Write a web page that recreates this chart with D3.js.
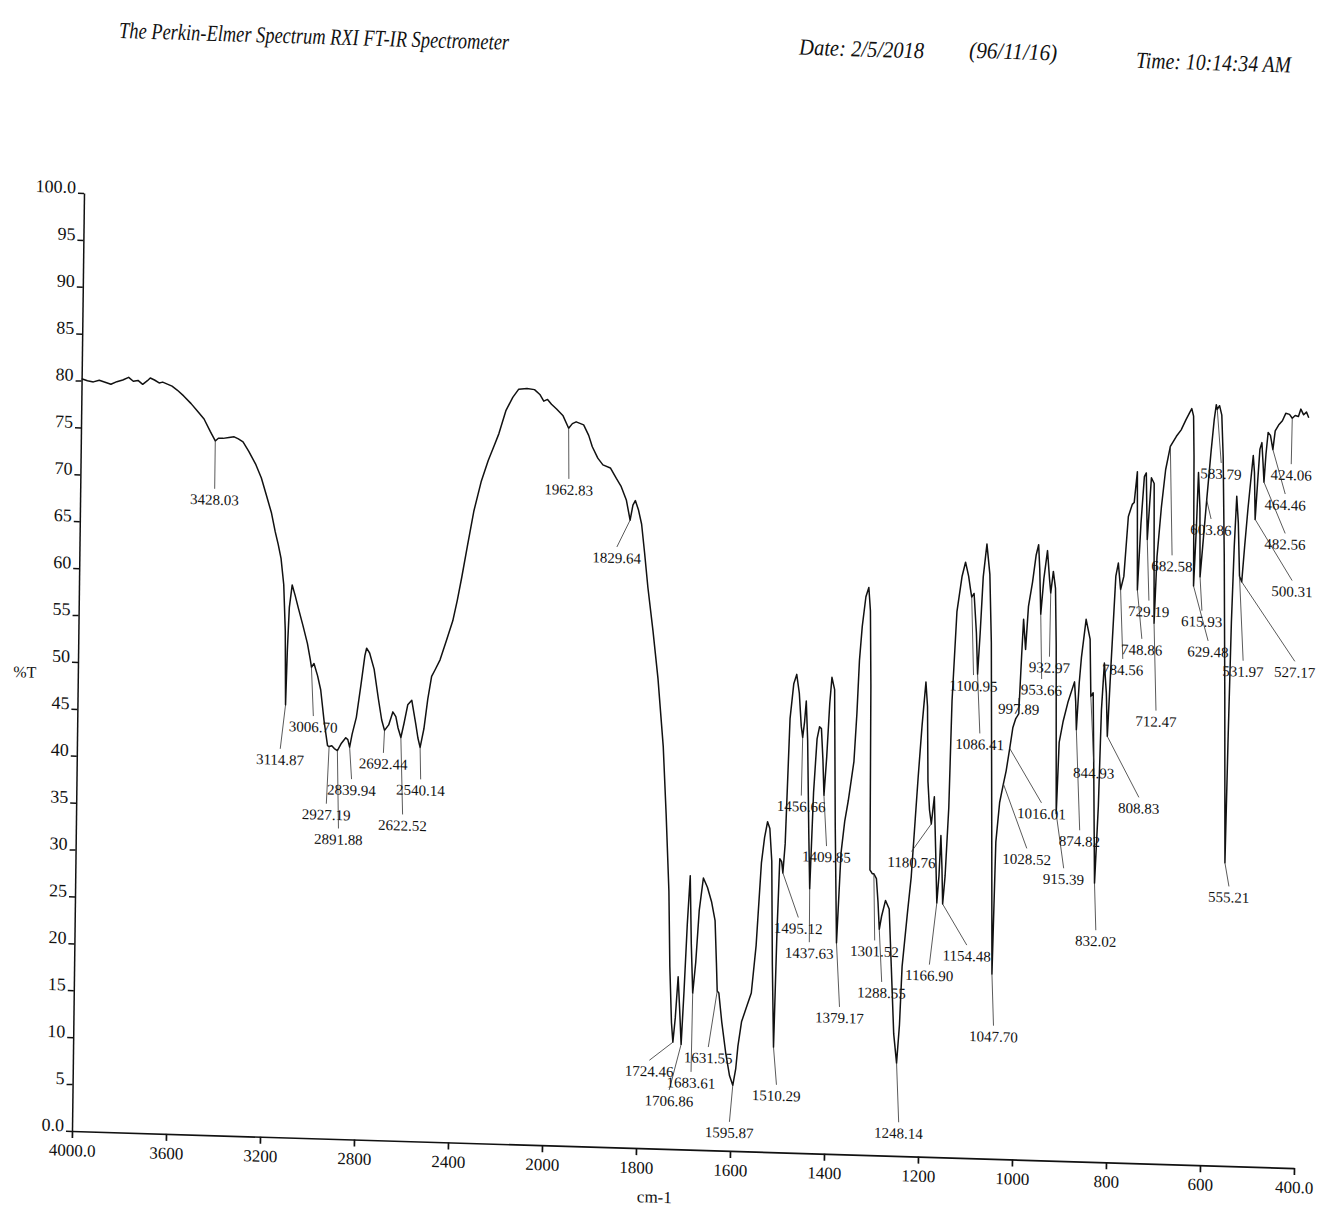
<!DOCTYPE html>
<html>
<head>
<meta charset="utf-8">
<script src="https://cdn.jsdelivr.net/npm/d3@7/dist/d3.min.js"></script>
<style>
body { margin: 0; background: #fff; }
svg text { font-family: "Liberation Serif", "Times New Roman", serif; fill: #111; }
</style>
</head>
<body>
<svg id="chart" width="1318" height="1208"></svg>
<script>
// IR spectrum: wavenumber (cm-1) and %T
var wavenumbers = [4000,3975,3950,3925,3900,3875,3850,3825,3800,3780,3760,3740,3720,3708,3690,3670,3655,3635,3615,3593,3565,3533,3505,3477,3450,3428,3415,3395,3370,3348,3330,3310,3285,3254,3230,3208,3185,3168,3155,3142,3129,3120,3114.87,3110,3104,3093,3080,3065,3045,3025,3012,3006.7,2996,2980,2966,2950,2934,2927.19,2916,2905,2891.88,2875,2857,2848,2839.94,2830,2813,2795,2780,2773,2760,2740,2720,2705,2692.44,2675,2658,2645,2635,2622.52,2610,2595,2578,2560,2550,2540.14,2525,2510,2495,2481,2460,2435,2408,2390,2372,2350,2324,2295,2266,2240,2222,2193,2165,2140,2105,2073,2050,2033,2017,2000,1989,1975,1962.83,1955,1947,1931,1920,1912,1900,1889,1873,1860,1850,1838,1829.64,1824,1819,1812,1805,1798,1790,1778,1766,1753,1745,1737,1733,1728,1724.46,1720,1715,1711,1706.86,1702,1697,1692,1688,1683.61,1678,1672,1664,1655,1646,1638,1634,1631.55,1628,1621,1612,1603,1595.87,1590,1586,1579,1570,1559,1550,1541,1535,1529,1524,1519,1515,1510.29,1506,1502,1498,1495.12,1491,1484,1477,1471,1465,1460,1456.66,1453,1450,1446,1441,1437.63,1432,1426,1421,1417,1413,1409.85,1405,1400,1396,1390,1385,1379.17,1372,1365,1358,1347,1342,1338,1333,1326,1320,1316,1313,1310,1305,1301.52,1296,1292,1288.55,1284,1276,1268,1262,1255,1248.14,1243,1239,1229,1222,1215,1210,1203,1196,1192,1189,1185,1180.76,1175,1171,1166.9,1163,1160,1157,1154.48,1150,1144,1140,1132,1122,1115,1108,1104,1100.95,1096,1090,1086.41,1082,1077,1070,1063,1058,1052,1047.7,1043,1036,1028.52,1023,1016.01,1010,1004,997.89,993,990,985,980,972,965,960,957,953.66,948,941,936,932.97,928,923,920,915.39,911,903,893,880,877,874.82,870,866,857,848,844.93,840,836,832.02,826,822,817,812,808.83,803,795,790,784.56,778,770,762,758,752,748.86,743,737,733,729.19,722,716,712.47,708,700,692,682.58,670,660,650,643,638,634,632,629.48,625,622,618,615.93,611,603.86,596,590,586,583.79,579,574,570,565,560,555.21,552,548,544,540,536,531.97,527.17,522,516,510,506,503,500.31,496,492,488,485,482.56,479,475,470,464.46,460,452,445,438,430,424.06,418,411,406,400,394,389];
var transmittance = [80.2,80.0,79.9,80.1,79.9,79.7,80.0,80.2,80.5,80.1,80.2,79.8,80.2,80.5,80.3,80.0,80.1,79.9,79.7,79.3,78.7,77.9,77.1,76.3,75.0,74.0,74.3,74.3,74.4,74.5,74.3,74.0,73.0,71.6,70.2,68.4,66.5,64.5,63.2,61.7,58.9,54.0,46.1,52.0,56.5,58.9,57.8,56.4,54.6,52.7,51.0,50.2,50.6,49.3,47.8,44.5,41.9,41.8,41.9,41.6,41.4,42.2,42.8,42.6,41.8,43.2,45.0,48.5,51.6,52.4,51.9,50.2,47.0,44.8,43.7,44.3,45.7,45.2,44.0,43.0,44.5,46.5,47.0,44.5,43.0,42.0,44.0,47.2,49.6,50.3,51.4,53.4,55.6,57.8,60.3,63.6,67.4,70.5,72.8,74.5,75.7,78.2,79.6,80.5,80.6,80.5,80.0,79.3,79.5,79.0,78.5,77.8,76.5,77.0,77.2,76.9,75.8,74.6,73.4,72.7,72.4,71.3,70.5,69.0,66.9,68.5,69.0,68.0,66.5,63.5,59.8,55.2,50.1,42.9,35.7,27.5,19.5,13.5,11.4,14.0,18.4,15.0,11.2,17.0,24.0,29.2,22.0,16.7,20.0,25.5,29.0,28.0,26.5,24.5,20.0,17.0,16.8,13.7,10.5,8.0,7.0,8.8,11.2,13.8,15.2,16.9,22.0,30.8,33.5,35.2,34.5,31.0,20.0,11.2,23.6,31.3,31.0,29.8,32.9,46.3,50.0,51.0,49.0,45.5,44.3,46.0,48.2,44.0,34.0,28.2,38.5,44.2,45.5,45.3,42.0,38.2,42.3,48.0,50.8,49.5,35.0,22.5,32.1,35.5,37.7,41.9,47.0,52.7,56.3,59.5,60.5,58.0,50.0,30.4,30.0,30.0,29.5,27.0,24.1,25.5,27.2,26.3,20.2,13.0,9.9,14.0,20.2,26.0,29.8,36.0,40.4,46.0,50.6,48.0,40.0,37.0,35.5,38.4,33.0,27.1,30.0,34.3,31.0,27.0,30.0,37.3,48.7,58.2,62.0,63.5,62.0,60.7,59.8,60.2,56.0,51.6,56.0,62.0,65.5,62.3,55.0,35.0,19.7,33.8,38.0,40.0,41.4,43.8,46.0,47.0,47.5,54.0,57.6,54.4,59.0,61.6,64.5,65.6,63.0,58.2,62.0,65.0,62.0,60.5,62.8,61.0,55.0,37.0,44.6,46.9,49.0,51.1,49.0,46.0,51.0,53.7,57.8,55.7,49.6,50.0,40.0,29.7,37.9,48.2,53.2,50.0,45.4,52.9,62.5,63.9,61.1,62.5,68.9,70.2,70.4,73.7,61.1,68.2,73.2,73.6,66.5,73.1,72.5,57.6,64.7,70.0,74.0,76.5,77.6,78.3,79.4,80.1,80.6,79.8,75.5,61.7,68.0,73.8,70.0,62.7,66.0,70.9,76.0,79.5,81.1,80.6,81.0,80.0,75.6,65.0,50.0,32.3,45.0,58.0,66.0,71.4,68.6,62.9,62.3,66.0,70.0,73.5,75.8,74.0,69.0,73.0,76.5,77.2,75.0,73.0,76.0,78.3,78.0,76.5,78.5,79.2,79.6,80.4,80.3,79.9,80.2,80.1,80.9,80.3,80.6,80.0];

// labelled peaks, and where each label sits (wavenumber, %T of the line end)
var peakWn = [3428.03,3114.87,3006.70,2927.19,2891.88,2839.94,2692.44,2622.52,2540.14,1962.83,1829.64,1724.46,1706.86,1683.61,1631.55,1595.87,1510.29,1495.12,1456.66,1437.63,1409.85,1379.17,1301.52,1288.55,1248.14,1180.76,1166.90,1154.48,1100.95,1086.41,1047.70,1028.52,1016.01,997.89,953.66,932.97,915.39,874.82,844.93,832.02,808.83,784.56,748.86,729.19,712.47,682.58,629.48,615.93,603.86,583.79,555.21,531.97,527.17,500.31,482.56,464.46,424.06];
var peakLabelWn = [3428,3135,2996,2936,2883,2830,2696,2611,2536,1961,1857,1774,1731,1685,1649,1602,1503,1461,1458,1437,1403,1371,1298,1282,1242,1222,1181,1102,1095,1080,1043,977,947,998,950,934,898,865,837,828,740,778,738,724,706,676,597,611,594,574,546,522,412,420,436,437,425];
var peakLabelT = [68.9,41.4,45.0,35.7,33.1,38.4,41.3,34.8,38.6,71.1,64.0,9.4,6.3,8.3,11.0,3.1,7.2,25.1,38.1,22.5,32.8,15.7,22.9,18.5,3.6,32.5,20.5,22.7,51.5,45.3,14.2,33.2,38.1,49.2,51.3,53.7,31.2,35.3,42.6,24.7,39.0,53.7,55.9,60.0,48.3,64.9,55.9,59.1,68.9,74.9,29.8,53.9,54.0,62.6,67.6,71.8,75.0];

var xTicks = [4000,3600,3200,2800,2400,2000,1800,1600,1400,1200,1000,800,600,400];
var yTicks = [0,5,10,15,20,25,30,35,40,45,50,55,60,65,70,75,80,85,90,95,100];

var width = 1222, height = 938;

var svg = d3.select("#chart");
// the scanned sheet is slightly skewed, so the whole page is sheared to match
var page = svg.append("g")
    .attr("transform", "translate(84,193) matrix(1,0.0303,-0.0128,1,0,0)");

// x scale changes at 2000 cm-1 like on the instrument printout
var x = d3.scaleLinear()
    .domain([4000, 2000, 400])
    .range([0, 470, width]);
var y = d3.scaleLinear()
    .domain([0, 100])
    .range([height, 0]);

// header
function header(txt, px, py, len) {
    page.append("text").attr("x", px).attr("y", py)
        .attr("textLength", len).attr("lengthAdjust", "spacingAndGlyphs")
        .style("font-style", "italic").style("font-size", "23px")
        .text(txt);
}
header("The Perkin-Elmer Spectrum RXI FT-IR Spectrometer", 33, -156, 390);
header("Date: 2/5/2018", 713, -160, 125);
header("(96/11/16)", 883, -162, 88);
header("Time: 10:14:34 AM", 1050, -157, 155);

// Y axis
var yAxis = page.append("g")
    .call(d3.axisLeft(y).tickValues(yTicks).tickSize(6).tickSizeOuter(0)
        .tickFormat(d => (d == 0 || d == 100) ? d.toFixed(1) : d));
yAxis.selectAll("text")
    .attr("x", -8).attr("dy", "0")
    .style("font-size", "18px").style("font-family", "Liberation Serif");
yAxis.selectAll("line, path").attr("stroke", "#111").style("stroke-width", "1.5px");

// X axis
var xAxis = page.append("g")
    .attr("transform", `translate(0,${height})`)
    .call(d3.axisBottom(x).tickValues(xTicks).tickSize(7).tickSizeOuter(0)
        .tickFormat(d => (d == 4000 || d == 400) ? d.toFixed(1) : d));
xAxis.selectAll("text")
    .attr("y", 13)
    .style("font-size", "17px").style("font-family", "Liberation Serif");
xAxis.selectAll("line, path").attr("stroke", "#111").style("stroke-width", "1.7px");

// axis labels
page.append("text").attr("x", -53).attr("y", 486)
    .attr("text-anchor", "middle").style("font-size", "16px").text("%T");
page.append("text").attr("x", 583).attr("y", 992)
    .attr("text-anchor", "middle").style("font-size", "17px").text("cm-1");

// spectrum
var spectrum = wavenumbers.map((w, i) => ({wn: w, t: transmittance[i]}));
var line = d3.line()
    .x(d => x(d.wn))
    .y(d => y(d.t));
page.append("path")
    .datum(spectrum)
    .attr("fill", "none")
    .attr("stroke", "#111")
    .style("stroke-width", "1.5px")
    .attr("stroke-linejoin", "round")
    .attr("d", line);

// %T on the curve at a given wavenumber
var ascending = spectrum.slice().sort((a, b) => a.wn - b.wn);
var bisect = d3.bisector(d => d.wn).left;
function tAt(wn) {
    var i = bisect(ascending, wn);
    if (i <= 0) return ascending[0].t;
    if (i >= ascending.length) return ascending[ascending.length - 1].t;
    var a = ascending[i - 1], b = ascending[i];
    return a.t + (b.t - a.t) * (wn - a.wn) / (b.wn - a.wn);
}

// peak labels
var peaks = peakWn.map((w, i) => ({wn: w, lwn: peakLabelWn[i], lt: peakLabelT[i]}));
var marks = page.append("g");
marks.selectAll("line")
    .data(peaks)
    .join("line")
    .attr("x1", d => x(d.wn))
    .attr("y1", d => y(tAt(d.wn)))
    .attr("x2", d => x(d.lwn))
    .attr("y2", d => y(d.lt))
    .attr("stroke", "#333")
    .style("stroke-width", "0.8px");
marks.selectAll("text")
    .data(peaks)
    .join("text")
    .attr("x", d => x(d.lwn))
    .attr("y", d => y(d.lt) + 16)
    .attr("text-anchor", "middle")
    .style("font-size", "15px")
    .text(d => d.wn.toFixed(2));
</script>
</body>
</html>
